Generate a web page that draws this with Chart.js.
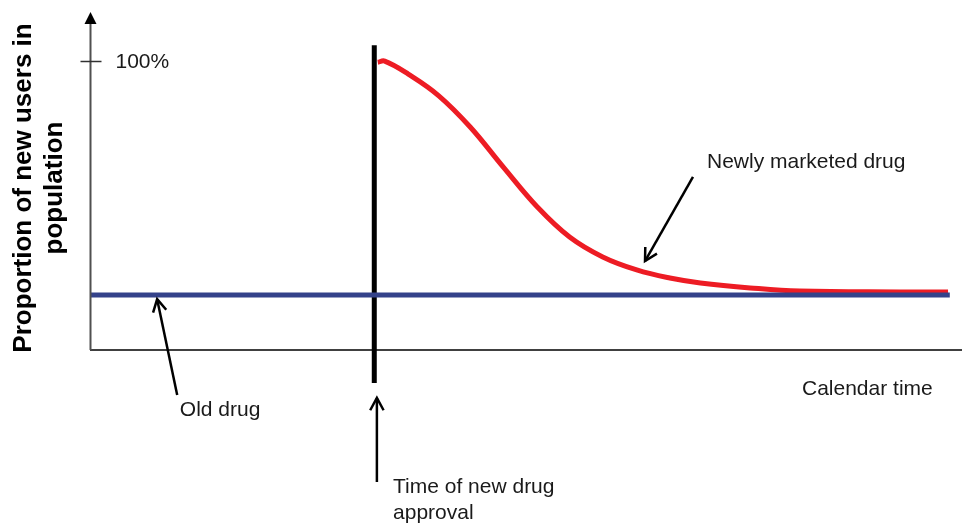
<!DOCTYPE html>
<html>
<head>
<meta charset="utf-8">
<script src="https://cdn.jsdelivr.net/npm/chart.js@4/dist/chart.umd.min.js"></script>
<style>
  html, body { margin: 0; padding: 0; background: #ffffff; }
  #wrap { width: 962px; height: 523px; }
</style>
</head>
<body>
<div id="wrap"><canvas id="c" width="962" height="523"></canvas></div>
<script>
// ---- Data (schematic) ----
const newDrugTime  = [33.0, 33.8, 36.5, 40.0, 43.6, 47.4, 51.3, 55.0, 58.8, 62.7, 66.5, 70.0, 75.7, 81.4, 92.9, 98.4];
const newDrugShare = [99.6, 100, 95.5, 88.0, 77.2, 63.3, 49.5, 39.1, 32.2, 27.7, 24.9, 23.2, 21.5, 20.4, 20.1, 20.1];
const oldDrugTime  = [0, 98.6];
const oldDrugShare = [19, 19];
const approvalTime = [32.6, 32.6];
const approvalSpan = [-11.4, 105.5];
const yTickValues  = [100];
const yTickLabels  = ['100%'];
const yAxisTitle   = ['Proportion of new users in', 'population'];
const xAxisLabel   = 'Calendar time';
// annotation arrows: [tailX, tailY, tipX, tipY]
const arrowOld      = [10.0, -15.6, 7.7, 17.6];
const arrowNew      = [69.15, 59.9, 63.65, 30.8];
const arrowApproval = [32.9, -45.7, 32.9, -16.6];
// annotation texts: [text, x, y]
const noteTexts = [
  ['Newly marketed drug', 70.76, 65.1],
  ['Old drug', 10.3, -20.8],
  [xAxisLabel, 81.65, -13.5],
  ['Time of new drug', 34.75, -47.4],
  ['approval', 34.75, -56.4]
];

const toPts = (xs, ys) => xs.map((x, i) => ({ x: x, y: ys[i] }));

const FONT = '"Liberation Sans", Arial, sans-serif';

const decorations = {
  id: 'decorations',
  afterDatasetsDraw(chart) {
    const ctx = chart.ctx;
    const xs = chart.scales.x, ys = chart.scales.y;
    const px = v => xs.getPixelForValue(v);
    const py = v => ys.getPixelForValue(v);
    const area = chart.chartArea;
    ctx.save();

    // x axis
    ctx.strokeStyle = '#000000';
    ctx.lineWidth = 1.5;
    ctx.beginPath();
    ctx.moveTo(px(0), py(0));
    ctx.lineTo(area.right, py(0));
    ctx.stroke();

    // y axis with arrowhead
    const ax = Math.round(px(0)) + 0.5;
    ctx.strokeStyle = '#505050';
    ctx.lineWidth = 2;
    ctx.beginPath();
    ctx.moveTo(ax, py(0));
    ctx.lineTo(ax, area.top + 10);
    ctx.stroke();
    ctx.fillStyle = '#000000';
    ctx.beginPath();
    ctx.moveTo(ax, area.top);
    ctx.lineTo(ax - 6, area.top + 12);
    ctx.lineTo(ax + 6, area.top + 12);
    ctx.closePath();
    ctx.fill();

    // y ticks
    ctx.strokeStyle = '#303030';
    ctx.lineWidth = 1.5;
    ctx.font = '21px ' + FONT;
    ctx.fillStyle = '#1a1a1a';
    ctx.textBaseline = 'middle';
    ctx.textAlign = 'left';
    yTickValues.forEach((v, i) => {
      const y = Math.round(py(v)) + 0.5;
      ctx.beginPath();
      ctx.moveTo(ax - 10, y);
      ctx.lineTo(ax + 11, y);
      ctx.stroke();
      ctx.fillText(yTickLabels[i], ax + 25, y + 1);
    });

    // arrows
    const drawArrow = (a) => {
      const x1 = px(a[0]), y1 = py(a[1]), x2 = px(a[2]), y2 = py(a[3]);
      const ang = Math.atan2(y2 - y1, x2 - x1);
      ctx.strokeStyle = '#000000';
      ctx.lineWidth = 2.5;
      ctx.beginPath();
      ctx.moveTo(x1, y1);
      ctx.lineTo(x2, y2);
      ctx.stroke();
      const L = 14, spread = 0.5;
      ctx.beginPath();
      ctx.moveTo(x2 - L * Math.cos(ang - spread), y2 - L * Math.sin(ang - spread));
      ctx.lineTo(x2, y2);
      ctx.lineTo(x2 - L * Math.cos(ang + spread), y2 - L * Math.sin(ang + spread));
      ctx.stroke();
    };
    drawArrow(arrowOld);
    drawArrow(arrowNew);
    drawArrow(arrowApproval);

    // texts
    ctx.fillStyle = '#1a1a1a';
    ctx.font = '21px ' + FONT;
    noteTexts.forEach(t => ctx.fillText(t[0], px(t[1]), py(t[2])));

    // y axis title (rotated, bold, two lines)
    ctx.font = 'bold 26px ' + FONT;
    ctx.fillStyle = '#000000';
    ctx.textAlign = 'center';
    ctx.textBaseline = 'middle';
    const cy = 188;
    [[yAxisTitle[0], 24], [yAxisTitle[1], 55]].forEach(([t, cx]) => {
      ctx.save();
      ctx.translate(cx, cy);
      ctx.rotate(-Math.PI / 2);
      ctx.fillText(t, 0, 0);
      ctx.restore();
    });

    ctx.restore();
  }
};

new Chart(document.getElementById('c'), {
  type: 'line',
  data: {
    datasets: [
      {
        label: 'Old drug',
        data: toPts(oldDrugTime, oldDrugShare),
        borderColor: '#34428a',
        borderWidth: 5,
        pointRadius: 0,
        tension: 0,
        clip: false
      },
      {
        label: 'Newly marketed drug',
        data: toPts(newDrugTime, newDrugShare),
        borderColor: '#ed1c24',
        borderWidth: 5,
        pointRadius: 0,
        tension: 0.4,
        clip: false
      },
      {
        label: 'Time of new drug approval',
        data: toPts(approvalTime, approvalSpan),
        borderColor: '#000000',
        borderWidth: 5,
        pointRadius: 0,
        tension: 0,
        clip: false
      }
    ]
  },
  options: {
    responsive: false,
    animation: false,
    devicePixelRatio: 1,
    layout: { padding: { left: 90, right: 0, top: 12, bottom: 173 } },
    plugins: { legend: { display: false }, tooltip: { enabled: false }, title: { display: false } },
    scales: {
      x: { type: 'linear', min: 0, max: 100, display: false },
      y: { type: 'linear', min: 0, max: 117, display: false }
    }
  },
  plugins: [decorations]
});
</script>
</body>
</html>
